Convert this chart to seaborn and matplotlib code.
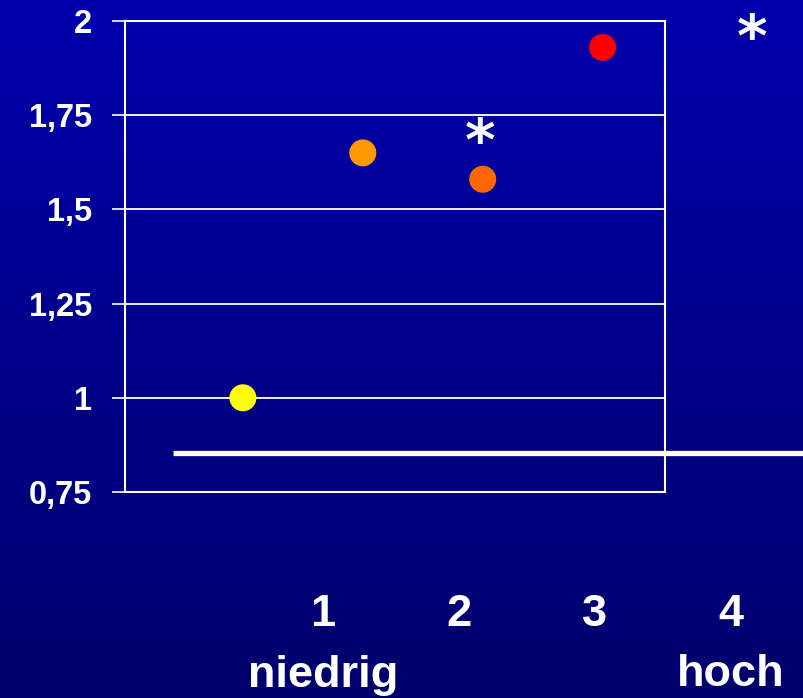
import numpy as np
import pandas as pd
import matplotlib
matplotlib.use("Agg")
import matplotlib.pyplot as plt
import seaborn as sns
from matplotlib.colors import LinearSegmentedColormap

# Data
stufen = [1, 2, 3, 4]
werte = [1.00, 1.65, 1.58, 1.93]
farben = ["#FFFF00", "#FF9900", "#FF6600", "#FF0000"]
y_ticks = [0.75, 1.0, 1.25, 1.5, 1.75, 2.0]
y_tick_labels = ["0,75", "1", "1,25", "1,5", "1,75", "2"]
x_labels = ["1", "2", "3", "4"]
referenz = 0.853
signifikant = [(2.98, 1.675), (5.25, 1.95)]

sns.set_theme(style="white")
plt.rcParams["font.family"] = ["Liberation Sans", "DejaVu Sans"]

fig = plt.figure(figsize=(8.04, 6.98), dpi=100)

# Vertical blue gradient background
bg = fig.add_axes([0, 0, 1, 1], zorder=-10)
cmap = LinearSegmentedColormap.from_list("bg", ["#0000AC", "#00006C"])
grad = np.linspace(0, 1, 256).reshape(-1, 1)
bg.imshow(grad, aspect="auto", cmap=cmap, extent=[0, 1, 0, 1], origin="upper")
bg.set_axis_off()

ax = fig.add_axes([125 / 804, 1 - 492 / 698, 540 / 804, 471 / 698])
ax.patch.set_alpha(0)

df = pd.DataFrame({"stufe": stufen, "wert": werte, "farbe": farben})
sns.scatterplot(data=df, x="stufe", y="wert", hue="farbe", palette=dict(zip(farben, farben)),
                s=27 ** 2 * 0.52, edgecolor="none", legend=False, ax=ax, zorder=5, clip_on=False)

ax.set_xlim(0.017, 4.52)
ax.set_ylim(0.75, 2.0)
ax.set_yticks(y_ticks)
ax.set_yticklabels(y_tick_labels, fontsize=23.5, fontweight="bold", color="white")
ax.set_xticks([])
ax.set_xlabel("")
ax.set_ylabel("")
ax.tick_params(axis="y", length=9.4, width=1.2, color="white", pad=14, left=True)
for y in y_ticks:
    ax.axhline(y, color="white", lw=1.3, zorder=1)
for sp in ax.spines.values():
    sp.set_color("white")
    sp.set_linewidth(1.5)
    sp.set_visible(True)

# Reference line
ax.plot([0.417, 5.67], [referenz, referenz], color="white", lw=3.8, clip_on=False,
        solid_capstyle="butt", zorder=4)

# Significance markers
for xs, ys in signifikant:
    ax.text(xs, ys, "*", color="white", fontsize=42, fontweight="bold", family="DejaVu Sans",
            ha="center", va="center", clip_on=False)

# Category labels below the chart
for lbl, xp in zip(x_labels, [323, 459, 595, 731]):
    fig.text(xp / 804, 1 - 615 / 698, lbl, color="white", fontsize=32.5, fontweight="bold",
             ha="center", va="center")
fig.text(323 / 804, 1 - 675 / 698, "niedrig", color="white", fontsize=32.5, fontweight="bold",
         ha="center", va="center")
fig.text(731 / 804, 1 - 675 / 698, "hoch", color="white", fontsize=32.5, fontweight="bold",
         ha="center", va="center")

fig.savefig("out.png", dpi=100)
